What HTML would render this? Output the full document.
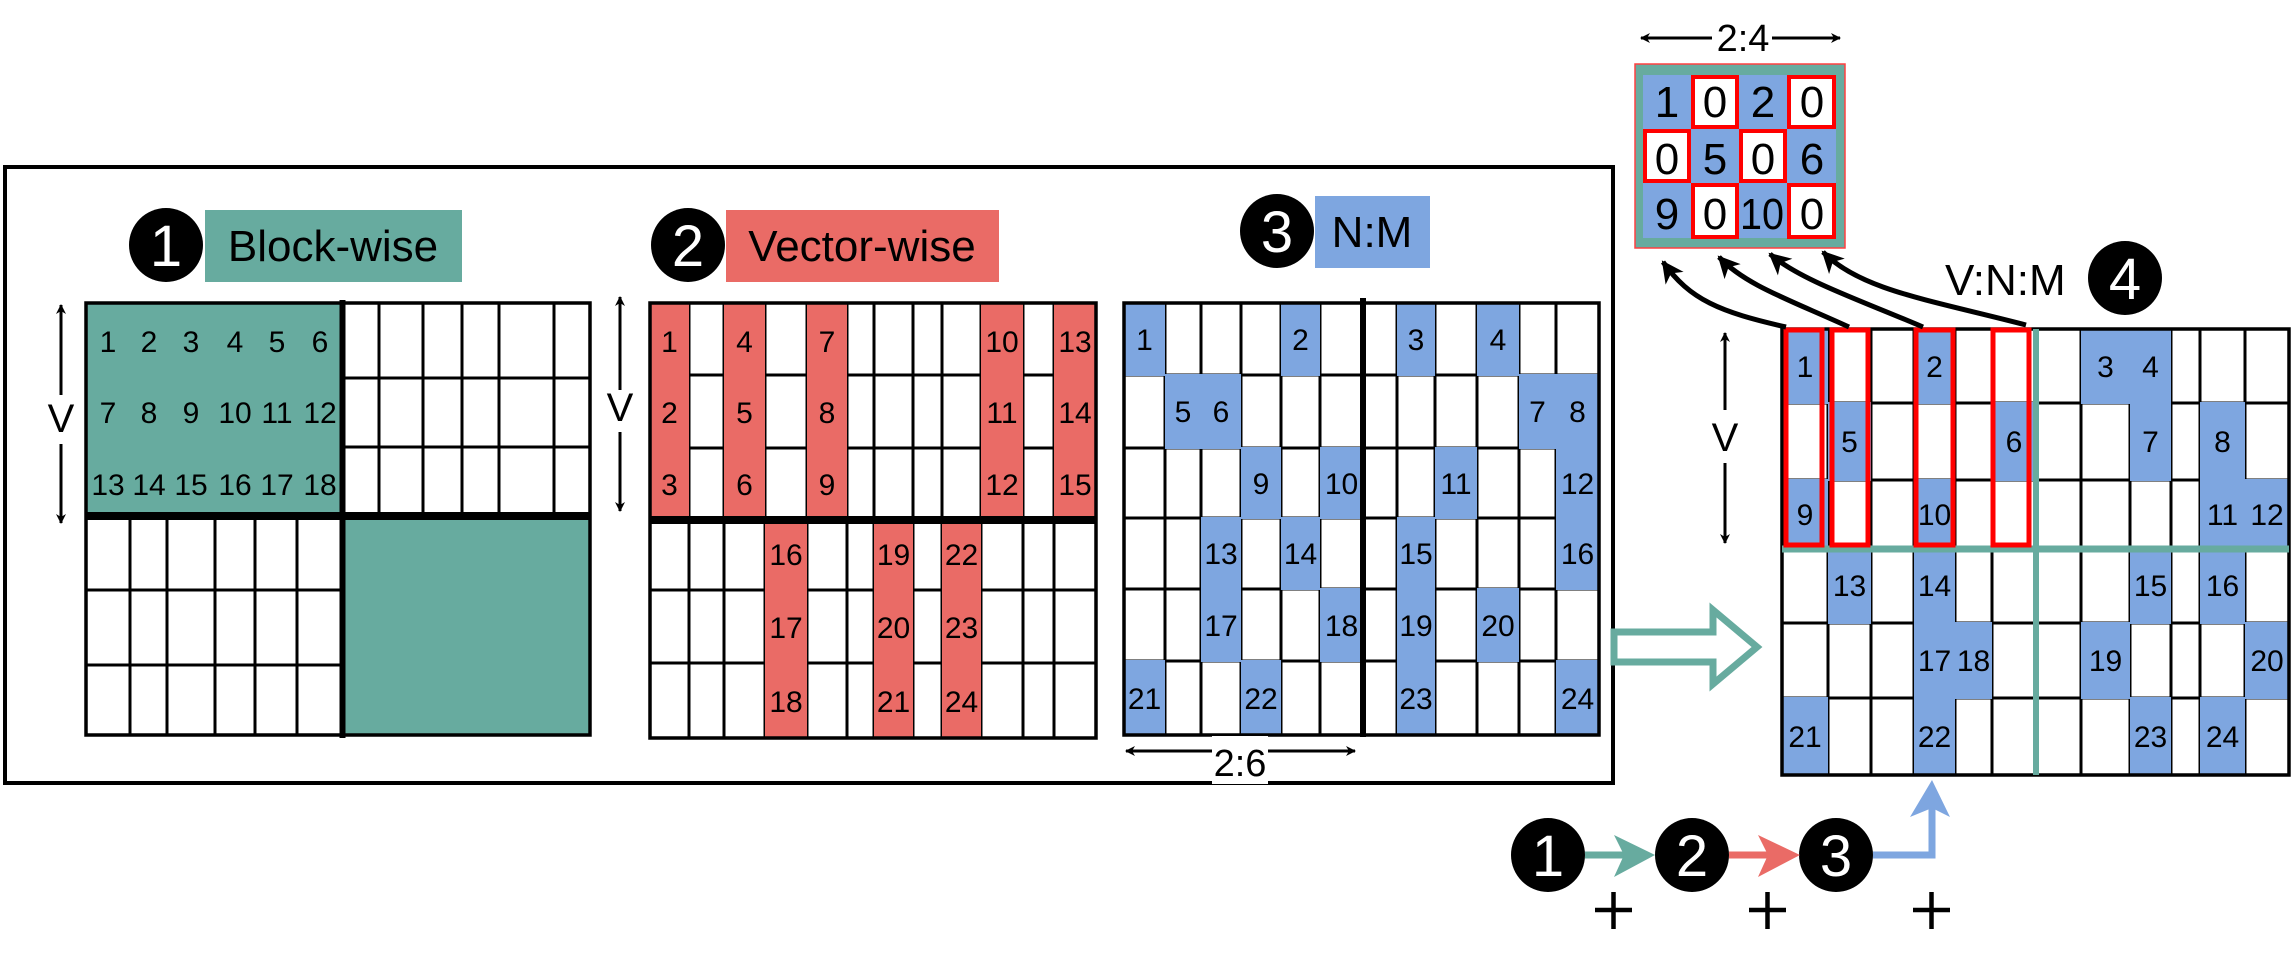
<!DOCTYPE html>
<html><head><meta charset="utf-8"><style>
html,body{margin:0;padding:0;background:#fff;}
svg{display:block;}
text{font-family:"Liberation Sans",Arial,sans-serif;}
</style></head><body>
<svg width="2295" height="960" viewBox="0 0 2295 960" xmlns="http://www.w3.org/2000/svg">
<defs>
<marker id="ah" markerWidth="10" markerHeight="10" refX="9" refY="5" orient="auto" markerUnits="userSpaceOnUse" viewBox="0 0 10 10"><path d="M0,0 L10,5 L0,10 L3,5 z" fill="#000"/></marker>
</defs>
<!-- main box -->
<rect x="5" y="167" width="1608" height="616" fill="none" stroke="#000" stroke-width="4"/>

<!-- ===== Block-wise ===== -->
<rect x="86" y="303" width="256" height="213" fill="#67ab9f"/>
<rect x="342" y="516" width="248" height="219" fill="#67ab9f"/>
<g stroke="#000" stroke-width="3">
<line x1="379" y1="303" x2="379" y2="516"/><line x1="423" y1="303" x2="423" y2="516"/><line x1="462" y1="303" x2="462" y2="516"/><line x1="499" y1="303" x2="499" y2="516"/><line x1="554" y1="303" x2="554" y2="516"/>
<line x1="342" y1="378" x2="590" y2="378"/><line x1="342" y1="447" x2="590" y2="447"/>
<line x1="130" y1="516" x2="130" y2="735"/><line x1="167" y1="516" x2="167" y2="735"/><line x1="215" y1="516" x2="215" y2="735"/><line x1="255" y1="516" x2="255" y2="735"/><line x1="297" y1="516" x2="297" y2="735"/>
<line x1="86" y1="590" x2="342" y2="590"/><line x1="86" y1="665" x2="342" y2="665"/>
</g>
<rect x="86" y="303" width="504" height="432" fill="none" stroke="#000" stroke-width="3.5"/>
<line x1="342.5" y1="300" x2="342.5" y2="738" stroke="#000" stroke-width="6"/>
<line x1="86" y1="516" x2="590" y2="516" stroke="#000" stroke-width="8"/>
<g font-size="30" text-anchor="middle" fill="#000">
<text x="108" y="352">1</text><text x="149" y="352">2</text><text x="191" y="352">3</text><text x="235" y="352">4</text><text x="277" y="352">5</text><text x="320" y="352">6</text>
<text x="108" y="423">7</text><text x="149" y="423">8</text><text x="191" y="423">9</text><text x="235" y="423">10</text><text x="277" y="423">11</text><text x="320" y="423">12</text>
<text x="108" y="495">13</text><text x="149" y="495">14</text><text x="191" y="495">15</text><text x="235" y="495">16</text><text x="277" y="495">17</text><text x="320" y="495">18</text>
</g>
<!-- V arrow 1 -->
<line x1="61" y1="395" x2="61" y2="305" stroke="#000" stroke-width="3" marker-end="url(#ah)"/>
<line x1="61" y1="444" x2="61" y2="523" stroke="#000" stroke-width="3" marker-end="url(#ah)"/>
<text x="61" y="432" font-size="40" text-anchor="middle">V</text>
<!-- label 1 -->
<circle cx="166" cy="245" r="37" fill="#000"/>
<text x="166" y="266" font-size="58" fill="#fff" text-anchor="middle">1</text>
<rect x="205" y="210" width="257" height="72" fill="#67ab9f"/>
<text x="333" y="261" font-size="44" text-anchor="middle">Block-wise</text>

<!-- ===== Vector-wise ===== -->
<g stroke="#000" stroke-width="3">
<line x1="689" y1="303" x2="689" y2="738"/><line x1="724" y1="303" x2="724" y2="738"/><line x1="765" y1="303" x2="765" y2="738"/><line x1="807" y1="303" x2="807" y2="738"/><line x1="847" y1="303" x2="847" y2="738"/><line x1="874" y1="303" x2="874" y2="738"/><line x1="913" y1="303" x2="913" y2="738"/><line x1="942" y1="303" x2="942" y2="738"/><line x1="981" y1="303" x2="981" y2="738"/><line x1="1023" y1="303" x2="1023" y2="738"/><line x1="1054" y1="303" x2="1054" y2="738"/>
<line x1="650" y1="375" x2="1096" y2="375"/><line x1="650" y1="448" x2="1096" y2="448"/><line x1="650" y1="590" x2="1096" y2="590"/><line x1="650" y1="663" x2="1096" y2="663"/>
</g>
<g fill="#ea6b66">
<rect x="650" y="303" width="39" height="217"/><rect x="724" y="303" width="41" height="217"/><rect x="807" y="303" width="40" height="217"/><rect x="981" y="303" width="42" height="217"/><rect x="1054" y="303" width="42" height="217"/>
<rect x="765" y="520" width="42" height="218"/><rect x="874" y="520" width="39" height="218"/><rect x="942" y="520" width="39" height="218"/>
</g>
<rect x="650" y="303" width="446" height="435" fill="none" stroke="#000" stroke-width="3.5"/>
<line x1="650" y1="520" x2="1096" y2="520" stroke="#000" stroke-width="8"/>
<g font-size="30" text-anchor="middle">
<text x="669.5" y="352">1</text><text x="669.5" y="423">2</text><text x="669.5" y="495">3</text>
<text x="744.5" y="352">4</text><text x="744.5" y="423">5</text><text x="744.5" y="495">6</text>
<text x="827" y="352">7</text><text x="827" y="423">8</text><text x="827" y="495">9</text>
<text x="1002" y="352">10</text><text x="1002" y="423">11</text><text x="1002" y="495">12</text>
<text x="1075" y="352">13</text><text x="1075" y="423">14</text><text x="1075" y="495">15</text>
<text x="786" y="565">16</text><text x="786" y="638">17</text><text x="786" y="712">18</text>
<text x="893.5" y="565">19</text><text x="893.5" y="638">20</text><text x="893.5" y="712">21</text>
<text x="961.5" y="565">22</text><text x="961.5" y="638">23</text><text x="961.5" y="712">24</text>
</g>
<line x1="620" y1="390" x2="620" y2="297" stroke="#000" stroke-width="3" marker-end="url(#ah)"/>
<line x1="620" y1="432" x2="620" y2="511" stroke="#000" stroke-width="3" marker-end="url(#ah)"/>
<text x="620" y="421" font-size="40" text-anchor="middle">V</text>
<circle cx="688" cy="245" r="37" fill="#000"/>
<text x="688" y="266" font-size="58" fill="#fff" text-anchor="middle">2</text>
<rect x="726" y="210" width="273" height="72" fill="#ea6b66"/>
<text x="862" y="261" font-size="44" text-anchor="middle">Vector-wise</text>

<!-- ===== N:M ===== -->
<g stroke="#000" stroke-width="3">
<line x1="1165" y1="303" x2="1165" y2="735"/><line x1="1201" y1="303" x2="1201" y2="735"/><line x1="1241" y1="303" x2="1241" y2="735"/><line x1="1281" y1="303" x2="1281" y2="735"/><line x1="1320" y1="303" x2="1320" y2="735"/><line x1="1397" y1="303" x2="1397" y2="735"/><line x1="1435" y1="303" x2="1435" y2="735"/><line x1="1477" y1="303" x2="1477" y2="735"/><line x1="1519" y1="303" x2="1519" y2="735"/><line x1="1556" y1="303" x2="1556" y2="735"/>
<line x1="1124" y1="375" x2="1599" y2="375"/><line x1="1124" y1="448" x2="1599" y2="448"/><line x1="1124" y1="518" x2="1599" y2="518"/><line x1="1124" y1="589" x2="1599" y2="589"/><line x1="1124" y1="661" x2="1599" y2="661"/>
</g>
<g fill="#7ea6e0">
<!-- r0 -->
<rect x="1124" y="303" width="41" height="73"/><rect x="1281" y="303" width="39" height="73"/><rect x="1397" y="303" width="38" height="73"/><rect x="1477" y="303" width="42" height="73"/>
<!-- r1 -->
<rect x="1165" y="374" width="76" height="75"/><rect x="1519" y="374" width="80" height="75"/>
<!-- r2 -->
<rect x="1241" y="447" width="40" height="72"/><rect x="1320" y="447" width="43" height="72"/><rect x="1435" y="447" width="42" height="72"/><rect x="1556" y="374" width="43" height="216"/>
<!-- r3 -->
<rect x="1201" y="517" width="40" height="145"/><rect x="1281" y="517" width="39" height="73"/><rect x="1397" y="517" width="38" height="218"/>
<!-- r4 -->
<rect x="1320" y="588" width="43" height="74"/><rect x="1477" y="588" width="42" height="74"/>
<!-- r5 -->
<rect x="1124" y="660" width="41" height="75"/><rect x="1241" y="660" width="40" height="75"/><rect x="1556" y="660" width="43" height="75"/>
</g>
<rect x="1124" y="303" width="475" height="432" fill="none" stroke="#000" stroke-width="3.5"/>
<line x1="1363" y1="298" x2="1363" y2="737" stroke="#000" stroke-width="6"/>
<g font-size="30" text-anchor="middle">
<text x="1144.5" y="350">1</text><text x="1300.5" y="350">2</text><text x="1416" y="350">3</text><text x="1498" y="350">4</text>
<text x="1183" y="422">5</text><text x="1221" y="422">6</text><text x="1537.5" y="422">7</text><text x="1577.5" y="422">8</text>
<text x="1261" y="494">9</text><text x="1341.5" y="494">10</text><text x="1456" y="494">11</text><text x="1577.5" y="494">12</text>
<text x="1221" y="564">13</text><text x="1300.5" y="564">14</text><text x="1416" y="564">15</text><text x="1577.5" y="564">16</text>
<text x="1221" y="636">17</text><text x="1341.5" y="636">18</text><text x="1416" y="636">19</text><text x="1498" y="636">20</text>
<text x="1144.5" y="709">21</text><text x="1261" y="709">22</text><text x="1416" y="709">23</text><text x="1577.5" y="709">24</text>
</g>
<line x1="1215" y1="751" x2="1126" y2="751" stroke="#000" stroke-width="3" marker-end="url(#ah)"/>
<line x1="1265" y1="751" x2="1355" y2="751" stroke="#000" stroke-width="3" marker-end="url(#ah)"/>
<rect x="1212" y="736" width="56" height="48" fill="#fff"/>
<text x="1240" y="776" font-size="38" text-anchor="middle">2:6</text>
<circle cx="1277" cy="231" r="37" fill="#000"/>
<text x="1277" y="252" font-size="58" fill="#fff" text-anchor="middle">3</text>
<rect x="1315" y="196" width="115" height="72" fill="#7ea6e0"/>
<text x="1372" y="247" font-size="44" text-anchor="middle">N:M</text>

<!-- hollow arrow -->
<polygon points="1614,632 1713,632 1713,610 1757,647 1713,684 1713,662 1614,662" fill="#fff" stroke="#67ab9f" stroke-width="7"/>

<!-- ===== V:N:M grid ===== -->
<g stroke="#000" stroke-width="3">
<line x1="1828" y1="329" x2="1828" y2="775"/><line x1="1871" y1="329" x2="1871" y2="775"/><line x1="1914" y1="329" x2="1914" y2="775"/><line x1="1955" y1="329" x2="1955" y2="775"/><line x1="1992" y1="329" x2="1992" y2="775"/><line x1="2081" y1="329" x2="2081" y2="775"/><line x1="2130" y1="329" x2="2130" y2="775"/><line x1="2171" y1="329" x2="2171" y2="775"/><line x1="2200" y1="329" x2="2200" y2="775"/><line x1="2245" y1="329" x2="2245" y2="775"/>
<line x1="1782" y1="403" x2="2289" y2="403"/><line x1="1782" y1="480" x2="2289" y2="480"/><line x1="1782" y1="623" x2="2289" y2="623"/><line x1="1782" y1="698" x2="2289" y2="698"/>
</g>
<g fill="#7ea6e0">
<rect x="1782" y="329" width="46" height="75"/><rect x="1914" y="329" width="41" height="75"/><rect x="2081" y="329" width="90" height="75"/>
<rect x="1828" y="402" width="43" height="79"/><rect x="1992" y="402" width="44" height="79"/><rect x="2130" y="402" width="41" height="79"/><rect x="2200" y="402" width="45" height="147"/>
<rect x="1782" y="479" width="46" height="70"/><rect x="1914" y="479" width="41" height="70"/><rect x="2245" y="479" width="44" height="70"/>
<rect x="1828" y="548" width="43" height="76"/><rect x="1914" y="548" width="41" height="227"/><rect x="2130" y="548" width="41" height="76"/><rect x="2200" y="548" width="45" height="76"/>
<rect x="1955" y="622" width="37" height="77"/><rect x="2081" y="622" width="49" height="77"/><rect x="2245" y="622" width="44" height="77"/>
<rect x="1782" y="697" width="46" height="78"/><rect x="2130" y="697" width="41" height="78"/><rect x="2200" y="697" width="45" height="78"/>
</g>
<rect x="1782" y="329" width="507" height="446" fill="none" stroke="#000" stroke-width="3.5"/>
<g font-size="30" text-anchor="middle">
<text x="1805" y="377">1</text><text x="1934.5" y="377">2</text><text x="2105.5" y="377">3</text><text x="2150.5" y="377">4</text>
<text x="1849.5" y="452">5</text><text x="2014" y="452">6</text><text x="2150.5" y="452">7</text><text x="2222.5" y="452">8</text>
<text x="1805" y="525">9</text><text x="1934.5" y="525">10</text><text x="2222.5" y="525">11</text><text x="2267" y="525">12</text>
<text x="1849.5" y="596">13</text><text x="1934.5" y="596">14</text><text x="2150.5" y="596">15</text><text x="2222.5" y="596">16</text>
<text x="1934.5" y="671">17</text><text x="1973.5" y="671">18</text><text x="2105.5" y="671">19</text><text x="2267" y="671">20</text>
<text x="1805" y="747">21</text><text x="1934.5" y="747">22</text><text x="2150.5" y="747">23</text><text x="2222.5" y="747">24</text>
</g>
<line x1="1782" y1="549" x2="2289" y2="549" stroke="#67ab9f" stroke-width="7"/>
<line x1="2036" y1="329" x2="2036" y2="775" stroke="#67ab9f" stroke-width="6"/>
<g fill="none" stroke="#ff0000" stroke-width="5">
<rect x="1786" y="330" width="36" height="215"/><rect x="1832" y="330" width="36" height="215"/><rect x="1916" y="330" width="37" height="215"/><rect x="1993" y="330" width="36" height="215"/>
</g>
<line x1="1725" y1="410" x2="1725" y2="333" stroke="#000" stroke-width="3" marker-end="url(#ah)"/>
<line x1="1725" y1="463" x2="1725" y2="543" stroke="#000" stroke-width="3" marker-end="url(#ah)"/>
<text x="1725" y="451" font-size="40" text-anchor="middle">V</text>

<!-- curved arrows -->
<defs>
<marker id="ah2" markerWidth="24" markerHeight="24" refX="20" refY="12" orient="auto" markerUnits="userSpaceOnUse" viewBox="0 0 24 24"><path d="M0,1 L22,12 L0,23 L6,12 z" fill="#000"/></marker>
</defs>
<g fill="none" stroke="#000" stroke-width="5" marker-end="url(#ah2)">
<path d="M1786,327 C1720,312 1690,300 1663,262"/>
<path d="M1849,327 C1790,300 1745,285 1719,257"/>
<path d="M1923,327 C1860,300 1800,280 1770,254"/>
<path d="M2026,325 C1930,300 1860,290 1823,252"/>
</g>
<text x="1945" y="295" font-size="44">V:N:M</text>
<circle cx="2125" cy="278" r="37" fill="#000"/>
<text x="2125" y="299" font-size="58" fill="#fff" text-anchor="middle">4</text>

<!-- top matrix -->
<rect x="1635" y="64" width="210" height="184" fill="#67ab9f" stroke="#ff4040" stroke-width="1.5"/>
<rect x="1643" y="75" width="193" height="163" fill="#7ea6e0"/>
<g fill="#fff" stroke="#ff0000" stroke-width="4">
<rect x="1693" y="77" width="44" height="50"/><rect x="1789" y="77" width="45" height="50"/>
<rect x="1645" y="131" width="44" height="50"/><rect x="1741" y="131" width="44" height="50"/>
<rect x="1693" y="185" width="44" height="52"/><rect x="1789" y="185" width="45" height="52"/>
</g>
<g font-size="44" text-anchor="middle">
<text x="1667" y="117">1</text><text x="1715" y="117">0</text><text x="1763" y="117">2</text><text x="1812" y="117">0</text>
<text x="1667" y="174">0</text><text x="1715" y="174">5</text><text x="1763" y="174">0</text><text x="1812" y="174">6</text>
<text x="1667" y="229">9</text><text x="1715" y="229">0</text><text x="1762" y="229" textLength="44" lengthAdjust="spacingAndGlyphs">10</text><text x="1812" y="229">0</text>
</g>
<line x1="1712" y1="38" x2="1641" y2="38" stroke="#000" stroke-width="3" marker-end="url(#ah)"/>
<line x1="1772" y1="38" x2="1840" y2="38" stroke="#000" stroke-width="3" marker-end="url(#ah)"/>
<text x="1743" y="51" font-size="38" text-anchor="middle">2:4</text>

<!-- bottom chain -->
<circle cx="1548" cy="855" r="37" fill="#000"/>
<text x="1548" y="876" font-size="58" fill="#fff" text-anchor="middle">1</text>
<circle cx="1692" cy="855" r="37" fill="#000"/>
<text x="1692" y="876" font-size="58" fill="#fff" text-anchor="middle">2</text>
<circle cx="1836" cy="855" r="37" fill="#000"/>
<text x="1836" y="876" font-size="58" fill="#fff" text-anchor="middle">3</text>
<line x1="1585" y1="855" x2="1625" y2="855" stroke="#67ab9f" stroke-width="7"/>
<polygon points="1614,835 1655,855 1614,877 1624,855" fill="#67ab9f"/>
<line x1="1729" y1="855" x2="1770" y2="855" stroke="#ea6b66" stroke-width="7"/>
<polygon points="1758,835 1800,855 1758,877 1768,855" fill="#ea6b66"/>
<polyline points="1873,855 1932,855 1932,805" fill="none" stroke="#7ea6e0" stroke-width="7"/>
<polygon points="1910,817 1932,780 1950,817 1932,808" fill="#7ea6e0"/>
<g stroke="#000" stroke-width="4.5">
<line x1="1595" y1="910" x2="1632" y2="910"/><line x1="1613.5" y1="892" x2="1613.5" y2="929"/>
<line x1="1749" y1="910" x2="1786" y2="910"/><line x1="1767.5" y1="892" x2="1767.5" y2="929"/>
<line x1="1913" y1="910" x2="1950" y2="910"/><line x1="1931.5" y1="892" x2="1931.5" y2="929"/>
</g>
</svg>
</body></html>
